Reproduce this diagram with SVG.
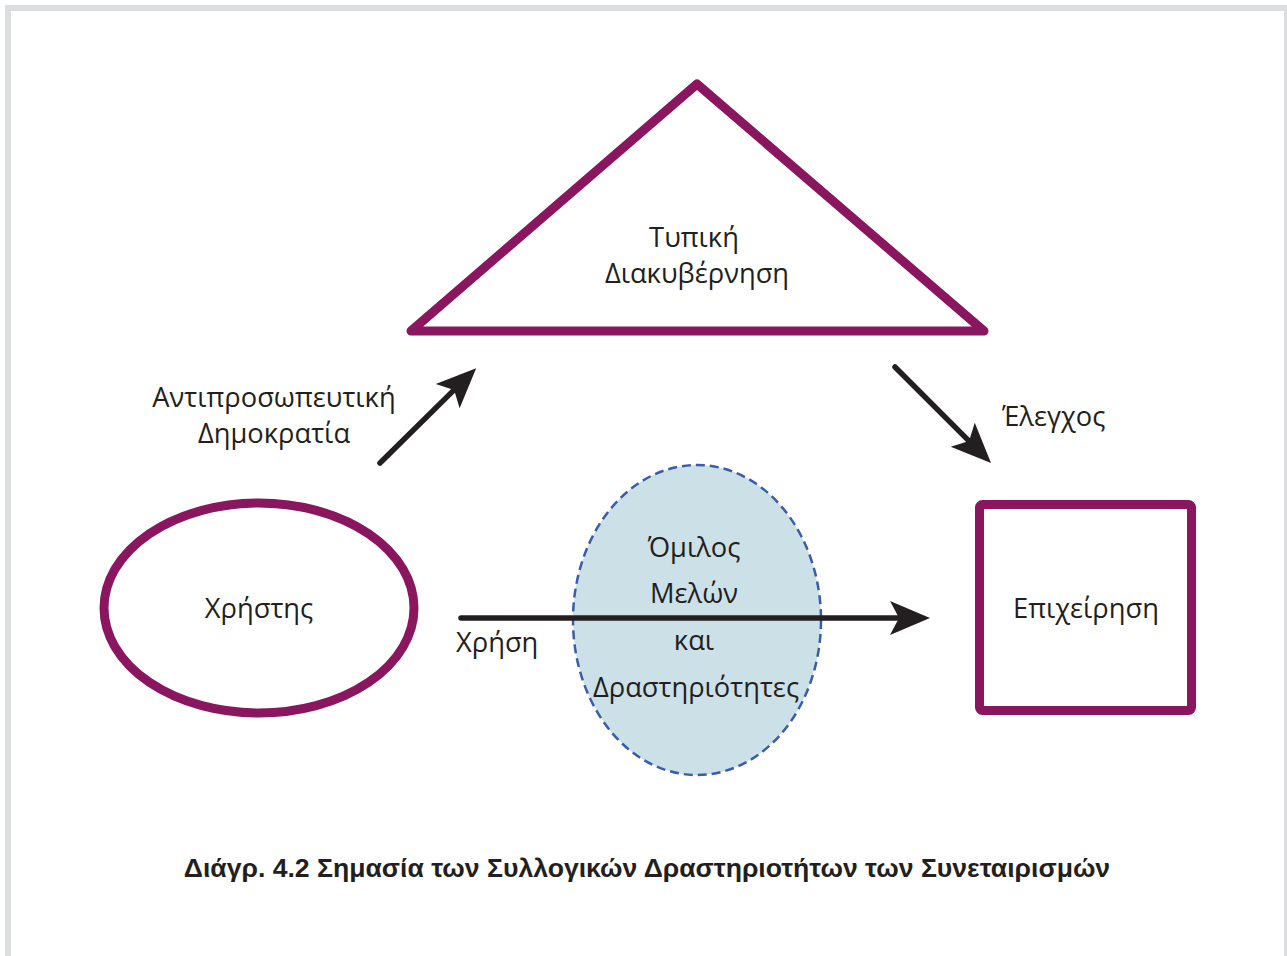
<svg xmlns="http://www.w3.org/2000/svg" width="1287" height="956" viewBox="0 0 1287 956">
<style>
.shape{fill:none;stroke:#8a1660;stroke-width:9;stroke-linejoin:round}
.lbl{font-family:"Open Sans","Noto Sans",sans-serif;font-size:27.3px;fill:#231f20}
.mid{text-anchor:middle}
.conn{stroke:#231f20;stroke-width:5.5;fill:none;stroke-linecap:round}
.cap{font-family:"Liberation Sans",Arial,sans-serif;font-weight:bold;font-size:26.6px;fill:#231f20;text-anchor:middle}
</style>
<defs>
<marker id="ah" markerUnits="userSpaceOnUse" markerWidth="42" markerHeight="40" viewBox="0 -18 42 36" refX="9" refY="0" orient="auto">
<path d="M40,0 L0,-17 L9,0 L0,17 Z" fill="#231f20"/>
</marker>
</defs>
<rect x="0" y="0" width="1287" height="956" fill="#ffffff"/>
<rect id="frame" x="8" y="8" width="1279" height="960" fill="none" stroke="#dcdddf" stroke-width="6"/>
<g id="governance">
<polygon class="shape" points="697,84 411,331 984,331"/>
<text class="lbl mid" x="694" y="247">Τυπική</text>
<text class="lbl mid" x="697" y="283">Διακυβέρνηση</text>
</g>
<g id="user">
<ellipse class="shape" cx="259" cy="608" rx="155" ry="105"/>
<text class="lbl mid" x="259" y="618">Χρήστης</text>
</g>
<g id="business">
<rect class="shape" x="979.5" y="504.5" width="212" height="206" rx="3"/>
<text class="lbl mid" x="1086" y="618">Επιχείρηση</text>
</g>
<g id="group">
<ellipse cx="697" cy="620" rx="124" ry="155" fill="#cce0e8" stroke="#3a5daa" stroke-width="2.5" stroke-dasharray="9,5"/>
</g>
<g id="connectors">
<line class="conn" x1="461" y1="618" x2="899" y2="618" marker-end="url(#ah)" stroke-linecap="butt"/>
<line class="conn" x1="380" y1="463" x2="454.1" y2="389.9" marker-end="url(#ah)"/>
<line class="conn" x1="895" y1="367" x2="969.1" y2="441.1" marker-end="url(#ah)"/>
<text class="lbl" x="456" y="652">Χρήση</text>
<text class="lbl mid" x="274" y="407">Αντιπροσωπευτική</text>
<text class="lbl mid" x="274" y="443">Δημοκρατία</text>
<text class="lbl" x="1002" y="426">Έλεγχος</text>
</g>
<g id="group-labels">
<text class="lbl mid" x="694" y="557">Όμιλος</text>
<text class="lbl mid" x="694" y="603">Μελών</text>
<text class="lbl mid" x="694" y="650">και</text>
<text class="lbl mid" x="696" y="697">Δραστηριότητες</text>
</g>
<text class="cap" x="647" y="877">Διάγρ. 4.2 Σημασία των Συλλογικών Δραστηριοτήτων των Συνεταιρισμών</text>
</svg>
